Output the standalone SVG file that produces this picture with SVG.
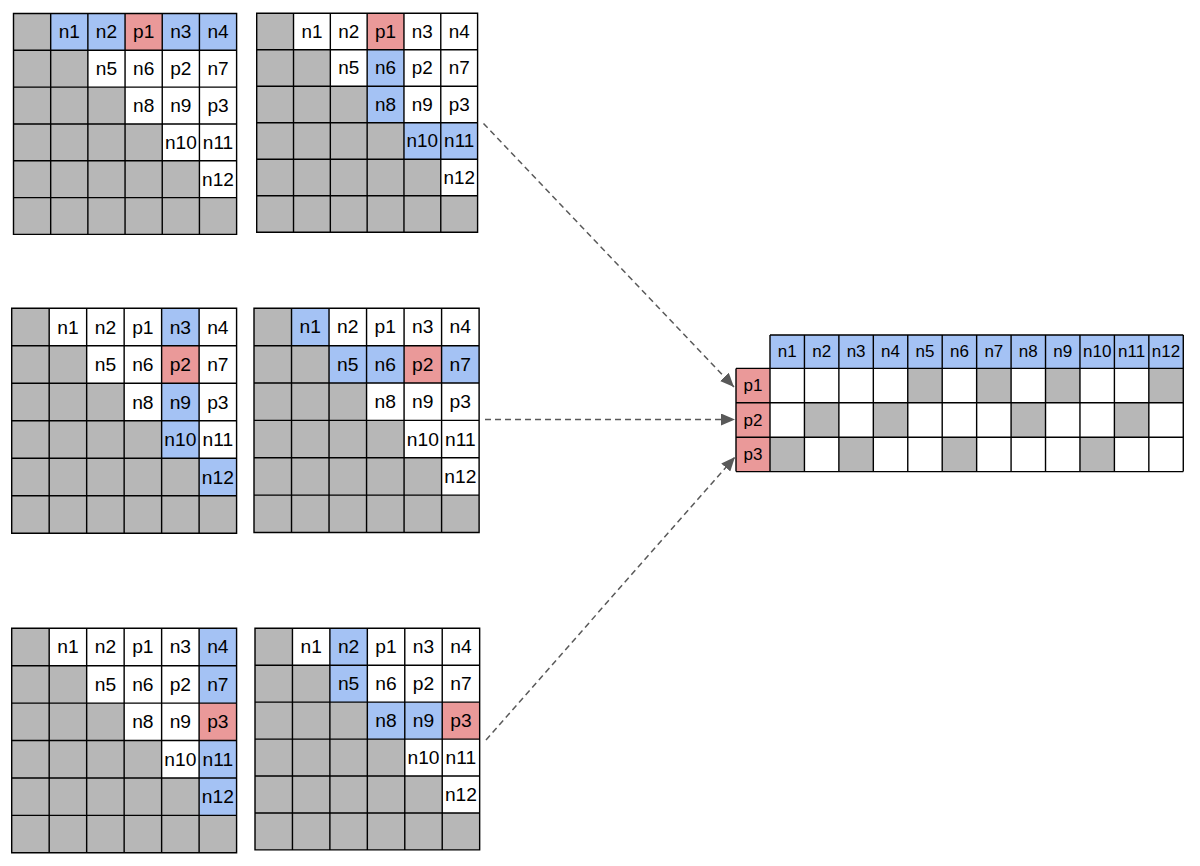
<svg xmlns="http://www.w3.org/2000/svg" xmlns:xlink="http://www.w3.org/1999/xlink" width="1200" height="866" viewBox="0 0 1200 866">
<style>
.t{font-family:"Liberation Sans",Arial,sans-serif;font-size:19px;text-anchor:middle;dominant-baseline:central;fill:#000}
.tt{font-family:"Liberation Sans",Arial,sans-serif;font-size:17px;text-anchor:middle;dominant-baseline:central;fill:#000}
.g{fill:#b7b7b7}
.w{fill:#fff}
.b{fill:#a4c2f4}
.r{fill:#ea9999}
.ln{fill:none;stroke:#000;stroke-width:1.4}
.ar{fill:none;stroke:#595959;stroke-width:1.5;stroke-dasharray:6 4}
</style>
<defs>
<rect id="bg" class="g" x="0" y="0" width="222" height="222"/>
<polygon id="tri" class="w" points="37,0 222,0 222,185 185,185 185,148 148,148 148,111 111,111 111,74 74,74 74,37 37,37"/>
<path id="gl" class="ln" d="M0 0H222V222H0Z M0 37H222 M0 74H222 M0 111H222 M0 148H222 M0 185H222 M37 0V222 M74 0V222 M111 0V222 M148 0V222 M185 0V222"/>
<marker id="ah" viewBox="0 0 14 12" refX="14" refY="6" markerWidth="14" markerHeight="12" markerUnits="userSpaceOnUse" orient="auto">
<path d="M0 0L14 6L0 12Z" fill="#595959"/>
</marker>
</defs>

<g id="grid1" transform="translate(13.5,13.5) scale(1.005,0.995)">
<use href="#bg"/><use href="#tri"/>
<rect class="b" x="37" y="0" width="37" height="37"/><rect class="b" x="74" y="0" width="37" height="37"/><rect class="r" x="111" y="0" width="37" height="37"/><rect class="b" x="148" y="0" width="37" height="37"/><rect class="b" x="185" y="0" width="37" height="37"/>
<use href="#gl"/>
<text class="t" x="55.5" y="18.5">n1</text><text class="t" x="92.5" y="18.5">n2</text><text class="t" x="129.5" y="18.5">p1</text><text class="t" x="166.5" y="18.5">n3</text><text class="t" x="203.5" y="18.5">n4</text>
<text class="t" x="92.5" y="55.5">n5</text><text class="t" x="129.5" y="55.5">n6</text><text class="t" x="166.5" y="55.5">p2</text><text class="t" x="203.5" y="55.5">n7</text>
<text class="t" x="129.5" y="92.5">n8</text><text class="t" x="166.5" y="92.5">n9</text><text class="t" x="203.5" y="92.5">p3</text>
<text class="t" x="166.5" y="129.5">n10</text><text class="t" x="203.5" y="129.5">n11</text>
<text class="t" x="203.5" y="166.5">n12</text>
</g>

<g id="grid2" transform="translate(256.7,13.3) scale(0.995,0.986)">
<use href="#bg"/><use href="#tri"/>
<rect class="r" x="111" y="0" width="37" height="37"/><rect class="b" x="111" y="37" width="37" height="37"/><rect class="b" x="111" y="74" width="37" height="37"/><rect class="b" x="148" y="111" width="37" height="37"/><rect class="b" x="185" y="111" width="37" height="37"/>
<use href="#gl"/>
<text class="t" x="55.5" y="18.5">n1</text><text class="t" x="92.5" y="18.5">n2</text><text class="t" x="129.5" y="18.5">p1</text><text class="t" x="166.5" y="18.5">n3</text><text class="t" x="203.5" y="18.5">n4</text>
<text class="t" x="92.5" y="55.5">n5</text><text class="t" x="129.5" y="55.5">n6</text><text class="t" x="166.5" y="55.5">p2</text><text class="t" x="203.5" y="55.5">n7</text>
<text class="t" x="129.5" y="92.5">n8</text><text class="t" x="166.5" y="92.5">n9</text><text class="t" x="203.5" y="92.5">p3</text>
<text class="t" x="166.5" y="129.5">n10</text><text class="t" x="203.5" y="129.5">n11</text>
<text class="t" x="203.5" y="166.5">n12</text>
</g>

<g id="grid3" transform="translate(11.7,308.3) scale(1.013,1.0135)">
<use href="#bg"/><use href="#tri"/>
<rect class="b" x="148" y="0" width="37" height="37"/><rect class="r" x="148" y="37" width="37" height="37"/><rect class="b" x="148" y="74" width="37" height="37"/><rect class="b" x="148" y="111" width="37" height="37"/><rect class="b" x="185" y="148" width="37" height="37"/>
<use href="#gl"/>
<text class="t" x="55.5" y="18.5">n1</text><text class="t" x="92.5" y="18.5">n2</text><text class="t" x="129.5" y="18.5">p1</text><text class="t" x="166.5" y="18.5">n3</text><text class="t" x="203.5" y="18.5">n4</text>
<text class="t" x="92.5" y="55.5">n5</text><text class="t" x="129.5" y="55.5">n6</text><text class="t" x="166.5" y="55.5">p2</text><text class="t" x="203.5" y="55.5">n7</text>
<text class="t" x="129.5" y="92.5">n8</text><text class="t" x="166.5" y="92.5">n9</text><text class="t" x="203.5" y="92.5">p3</text>
<text class="t" x="166.5" y="129.5">n10</text><text class="t" x="203.5" y="129.5">n11</text>
<text class="t" x="203.5" y="166.5">n12</text>
</g>

<g id="grid4" transform="translate(254,308.3) scale(1.014,1.01)">
<use href="#bg"/><use href="#tri"/>
<rect class="b" x="37" y="0" width="37" height="37"/><rect class="b" x="74" y="37" width="37" height="37"/><rect class="b" x="111" y="37" width="37" height="37"/><rect class="r" x="148" y="37" width="37" height="37"/><rect class="b" x="185" y="37" width="37" height="37"/>
<use href="#gl"/>
<text class="t" x="55.5" y="18.5">n1</text><text class="t" x="92.5" y="18.5">n2</text><text class="t" x="129.5" y="18.5">p1</text><text class="t" x="166.5" y="18.5">n3</text><text class="t" x="203.5" y="18.5">n4</text>
<text class="t" x="92.5" y="55.5">n5</text><text class="t" x="129.5" y="55.5">n6</text><text class="t" x="166.5" y="55.5">p2</text><text class="t" x="203.5" y="55.5">n7</text>
<text class="t" x="129.5" y="92.5">n8</text><text class="t" x="166.5" y="92.5">n9</text><text class="t" x="203.5" y="92.5">p3</text>
<text class="t" x="166.5" y="129.5">n10</text><text class="t" x="203.5" y="129.5">n11</text>
<text class="t" x="203.5" y="166.5">n12</text>
</g>

<g id="grid5" transform="translate(11.7,628.3) scale(1.013,1.011)">
<use href="#bg"/><use href="#tri"/>
<rect class="b" x="185" y="0" width="37" height="37"/><rect class="b" x="185" y="37" width="37" height="37"/><rect class="r" x="185" y="74" width="37" height="37"/><rect class="b" x="185" y="111" width="37" height="37"/><rect class="b" x="185" y="148" width="37" height="37"/>
<use href="#gl"/>
<text class="t" x="55.5" y="18.5">n1</text><text class="t" x="92.5" y="18.5">n2</text><text class="t" x="129.5" y="18.5">p1</text><text class="t" x="166.5" y="18.5">n3</text><text class="t" x="203.5" y="18.5">n4</text>
<text class="t" x="92.5" y="55.5">n5</text><text class="t" x="129.5" y="55.5">n6</text><text class="t" x="166.5" y="55.5">p2</text><text class="t" x="203.5" y="55.5">n7</text>
<text class="t" x="129.5" y="92.5">n8</text><text class="t" x="166.5" y="92.5">n9</text><text class="t" x="203.5" y="92.5">p3</text>
<text class="t" x="166.5" y="129.5">n10</text><text class="t" x="203.5" y="129.5">n11</text>
<text class="t" x="203.5" y="166.5">n12</text>
</g>

<g id="grid6" transform="translate(255,628.3) scale(1.012,0.998)">
<use href="#bg"/><use href="#tri"/>
<rect class="b" x="74" y="0" width="37" height="37"/><rect class="b" x="74" y="37" width="37" height="37"/><rect class="b" x="111" y="74" width="37" height="37"/><rect class="b" x="148" y="74" width="37" height="37"/><rect class="r" x="185" y="74" width="37" height="37"/>
<use href="#gl"/>
<text class="t" x="55.5" y="18.5">n1</text><text class="t" x="92.5" y="18.5">n2</text><text class="t" x="129.5" y="18.5">p1</text><text class="t" x="166.5" y="18.5">n3</text><text class="t" x="203.5" y="18.5">n4</text>
<text class="t" x="92.5" y="55.5">n5</text><text class="t" x="129.5" y="55.5">n6</text><text class="t" x="166.5" y="55.5">p2</text><text class="t" x="203.5" y="55.5">n7</text>
<text class="t" x="129.5" y="92.5">n8</text><text class="t" x="166.5" y="92.5">n9</text><text class="t" x="203.5" y="92.5">p3</text>
<text class="t" x="166.5" y="129.5">n10</text><text class="t" x="203.5" y="129.5">n11</text>
<text class="t" x="203.5" y="166.5">n12</text>
</g>

<g id="table" transform="translate(736,335)">
<rect class="b" x="34" y="0" width="413.28" height="33.4"/>
<rect class="r" x="0" y="33.4" width="34" height="103.2"/>
<rect class="w" x="34" y="33.4" width="413.28" height="103.2"/>
<rect class="g" x="171.76" y="33.4" width="34.44" height="34.4"/><rect class="g" x="240.64" y="33.4" width="34.44" height="34.4"/><rect class="g" x="309.52" y="33.4" width="34.44" height="34.4"/><rect class="g" x="412.84" y="33.4" width="34.44" height="34.4"/>
<rect class="g" x="68.44" y="67.8" width="34.44" height="34.4"/><rect class="g" x="137.32" y="67.8" width="34.44" height="34.4"/><rect class="g" x="275.08" y="67.8" width="34.44" height="34.4"/><rect class="g" x="378.4" y="67.8" width="34.44" height="34.4"/>
<rect class="g" x="34" y="102.2" width="34.44" height="34.4"/><rect class="g" x="102.88" y="102.2" width="34.44" height="34.4"/><rect class="g" x="206.2" y="102.2" width="34.44" height="34.4"/><rect class="g" x="343.96" y="102.2" width="34.44" height="34.4"/>
<path class="ln" d="M34 0H447.28 M0 33.4H447.28 M0 67.8H447.28 M0 102.2H447.28 M0 136.6H447.28 M0 33.4V136.6 M34 0V136.6 M68.44 0V136.6 M102.88 0V136.6 M137.32 0V136.6 M171.76 0V136.6 M206.2 0V136.6 M240.64 0V136.6 M275.08 0V136.6 M309.52 0V136.6 M343.96 0V136.6 M378.4 0V136.6 M412.84 0V136.6 M447.28 0V136.6"/>
<text class="tt" x="51.22" y="16.7">n1</text><text class="tt" x="85.66" y="16.7">n2</text><text class="tt" x="120.1" y="16.7">n3</text><text class="tt" x="154.54" y="16.7">n4</text><text class="tt" x="188.98" y="16.7">n5</text><text class="tt" x="223.42" y="16.7">n6</text><text class="tt" x="257.86" y="16.7">n7</text><text class="tt" x="292.3" y="16.7">n8</text><text class="tt" x="326.74" y="16.7">n9</text><text class="tt" x="361.18" y="16.7">n10</text><text class="tt" x="395.62" y="16.7">n11</text><text class="tt" x="430.06" y="16.7">n12</text>
<text class="tt" x="17" y="50.6">p1</text><text class="tt" x="17" y="85">p2</text><text class="tt" x="17" y="119.4">p3</text>
</g>

<g id="connectors">
<path class="ar" d="M483.5 123.5L734 387" marker-end="url(#ah)"/>
<path class="ar" d="M485 419.5L735 419.5" marker-end="url(#ah)"/>
<path class="ar" d="M486 740L735 457" marker-end="url(#ah)"/>
</g>
</svg>
